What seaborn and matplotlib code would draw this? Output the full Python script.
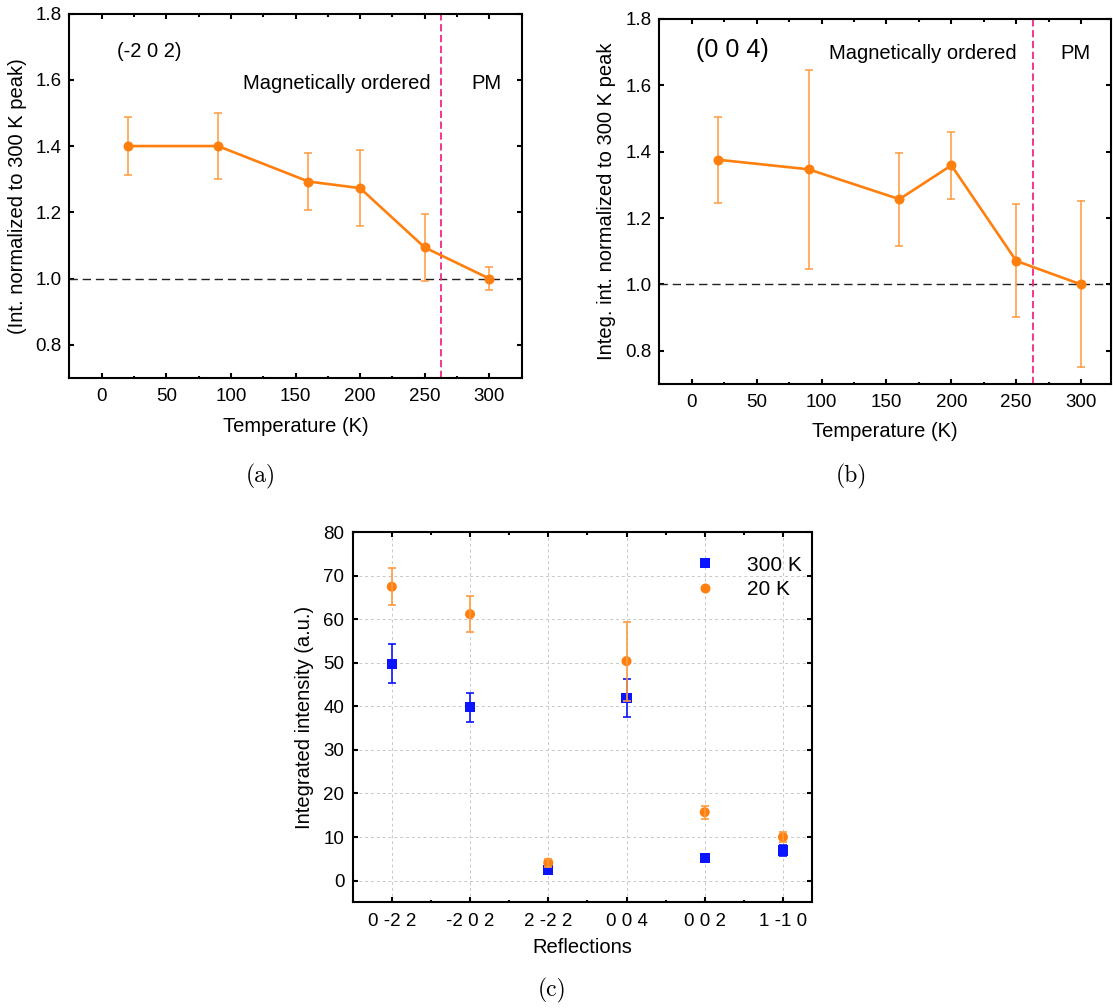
import numpy as np
import pandas as pd
import matplotlib
matplotlib.use("Agg")
import matplotlib.pyplot as plt
import seaborn as sns
from matplotlib.ticker import MultipleLocator, FormatStrFormatter

# ---- data -------------------------------------------------------------
temps = [20, 90, 160, 200, 250, 300]

ratio_m202 = [1.400, 1.400, 1.293, 1.273, 1.094, 1.000]
err_m202 = [0.087, 0.100, 0.087, 0.114, 0.100, 0.034]

ratio_004 = [1.376, 1.347, 1.257, 1.359, 1.071, 1.000]
err_004 = [0.130, 0.300, 0.140, 0.100, 0.170, 0.250]

t_order = 263  # magnetic ordering temperature (K)

reflections = ["0 -2 2", "-2 0 2", "2 -2 2", "0 0 4", "0 0 2", "1 -1 0"]
int_300K = [49.8, 39.8, 2.5, 42.0, 5.2, 6.9]
err_300K = [4.5, 3.3, 0.5, 4.4, 0.8, 1.2]
int_20K = [67.5, 61.2, 4.1, 50.4, 15.7, 10.0]
err_20K = [4.2, 4.1, 0.9, 9.1, 1.5, 1.1]

# ---- style ------------------------------------------------------------
sns.set_theme(style="ticks")
plt.rcParams["font.family"] = ["Liberation Sans", "DejaVu Sans"]
plt.rcParams["axes.linewidth"] = 1.5
plt.rcParams["text.color"] = "black"
plt.rcParams["axes.labelcolor"] = "black"
plt.rcParams["xtick.color"] = "black"
plt.rcParams["ytick.color"] = "black"

ORANGE = "#ff7f0e"
ORANGE_ERR = "#ff9a3c"
BLUE = "#0a14ff"
PINK = "#f0268c"

W, H = 1113, 1008
fig = plt.figure(figsize=(W / 100, H / 100), dpi=100)


def rect(l, t, r, b):
    return [l / W, 1 - b / H, (r - l) / W, (b - t) / H]


ax_a = fig.add_axes(rect(69.4, 13.5, 521.6, 378))
ax_b = fig.add_axes(rect(659.3, 19, 1111, 384))
ax_c = fig.add_axes(rect(352.7, 532.3, 812.3, 902.3))

TICK_FS = 13.5
LABEL_FS = 14.5


def style_axes(ax, xpad=7.5, ypad=5.5):
    ax.tick_params(which="both", direction="in", top=True, right=True,
                   width=1.5, colors="black", labelsize=TICK_FS)
    ax.tick_params(which="major", length=3.8)
    ax.tick_params(which="minor", length=1.8)
    ax.tick_params(axis="x", pad=xpad)
    ax.tick_params(axis="y", pad=ypad)
    for s in ax.spines.values():
        s.set_color("black")
        s.set_linewidth(1.5)


def temp_panel(ax, ratio, err, tag, tag_xy, tag_fs, note_y, ylabel, ylab_x, xlab_y, xmax):
    ax.axhline(1.0, color="#222222", lw=1.0, ls=(0, (6, 3.5)), zorder=1)
    ax.axvline(t_order, color=PINK, lw=1.3, ls=(0, (4, 2)), zorder=1)
    ax.errorbar(temps, ratio, yerr=err, fmt="none", ecolor=ORANGE_ERR,
                elinewidth=1.1, capsize=2.6, capthick=1.1, zorder=2)
    sns.lineplot(x=temps, y=ratio, ax=ax, color=ORANGE, lw=1.9, marker="o",
                 markersize=7.2, markeredgewidth=0, zorder=3)
    ax.set_xlim(-25, xmax)
    ax.set_ylim(0.7, 1.8)
    ax.xaxis.set_major_locator(MultipleLocator(50))
    ax.xaxis.set_minor_locator(MultipleLocator(25))
    ax.set_yticks([0.8, 1.0, 1.2, 1.4, 1.6, 1.8])
    ax.yaxis.set_major_formatter(FormatStrFormatter("%.1f"))
    style_axes(ax)
    ax.text(tag_xy[0], tag_xy[1], tag, fontsize=tag_fs, ha="left", va="center")
    ax.text(note_y[0], note_y[2], "Magnetically ordered", fontsize=LABEL_FS,
            ha="left", va="center")
    ax.text(note_y[1], note_y[2], "PM", fontsize=LABEL_FS, ha="left", va="center")
    ax.set_xlabel("Temperature (K)", fontsize=LABEL_FS)
    ax.set_ylabel(ylabel, fontsize=LABEL_FS)
    ax.xaxis.label.set_va("center")
    ax.yaxis.label.set_va("center")
    ax.xaxis.set_label_coords(0.5, xlab_y)
    ax.yaxis.set_label_coords(ylab_x, 0.5)


temp_panel(ax_a, ratio_m202, err_m202, "(-2 0 2)", (12, 1.685), LABEL_FS,
           (109, 286, 1.59), "(Int. normalized to 300 K peak)", -0.114, -0.134, 325)
temp_panel(ax_b, ratio_004, err_004, "(0 0 4)", (3.5, 1.707), 18,
           (106, 284, 1.697), "Integ. int. normalized to 300 K peak", -0.117, -0.129, 323)

# ---- panel (c): integrated intensities per reflection ----------------
df = pd.DataFrame({
    "reflection": reflections * 2,
    "intensity": int_300K + int_20K,
    "T": ["300 K"] * len(reflections) + ["20 K"] * len(reflections),
})
pos = np.arange(len(reflections))

ax_c.set_axisbelow(True)
ax_c.errorbar(pos, int_300K, yerr=err_300K, fmt="none", ecolor=BLUE,
              elinewidth=1.2, capsize=2.6, capthick=1.2, zorder=2)
ax_c.errorbar(pos, int_20K, yerr=err_20K, fmt="none", ecolor=ORANGE_ERR,
              elinewidth=1.2, capsize=2.6, capthick=1.2, zorder=4)
sns.scatterplot(data=df, x="reflection", y="intensity", hue="T", style="T",
                hue_order=["300 K", "20 K"], style_order=["300 K", "20 K"],
                palette={"300 K": BLUE, "20 K": ORANGE},
                markers={"300 K": "s", "20 K": "o"}, s=52, linewidth=0,
                ax=ax_c, zorder=3)
ax_c.set_xlim(-0.5, 5.375)
ax_c.set_ylim(-5, 80)
ax_c.set_xticks(pos)
ax_c.set_xticklabels(reflections)
ax_c.xaxis.set_minor_locator(MultipleLocator(0.5))
ax_c.yaxis.set_major_locator(MultipleLocator(10))
style_axes(ax_c, xpad=7.7, ypad=6)
ax_c.grid(True, which="major", color="#c8c8c8", lw=0.7, ls=(0, (3, 3)))
ax_c.set_xlabel("Reflections", fontsize=LABEL_FS)
ax_c.set_ylabel("Integrated intensity (a.u.)", fontsize=LABEL_FS)
ax_c.xaxis.label.set_va("center")
ax_c.yaxis.label.set_va("center")
ax_c.xaxis.set_label_coords(0.5, -0.122)
ax_c.yaxis.set_label_coords(-0.104, 0.5)

ax_c.legend(loc="upper right", bbox_to_anchor=(1.0, 0.965),
            frameon=False, fontsize=15, handlelength=0.8,
            handletextpad=1.6, labelspacing=0.25, borderaxespad=0.1,
            markerscale=1.0)

# ---- sub-figure captions ----------------------------------------------
for label, (cx, cy) in {"(a)": (261, 476), "(b)": (851, 476), "(c)": (552, 990)}.items():
    fig.text(cx / W, 1 - cy / H, label, family="cmr10", fontsize=17,
             ha="center", va="center")

fig.savefig("out.png", dpi=100)
